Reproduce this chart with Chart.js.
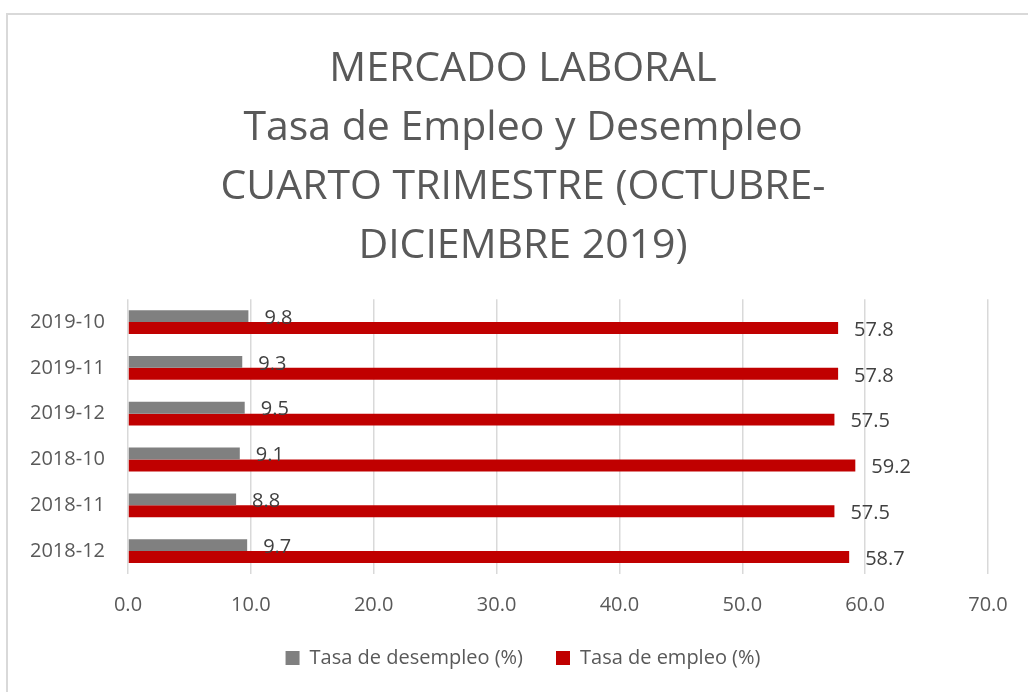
<!DOCTYPE html>
<html lang="es">
<head>
<meta charset="utf-8">
<title>Mercado laboral</title>
<script src="https://cdn.jsdelivr.net/npm/chart.js@4.4.1/dist/chart.umd.min.js"></script>
<style>
  html, body { margin: 0; padding: 0; background: #fff; overflow: hidden; }
  .frame {
    position: absolute; left: 6px; top: 13px; width: 1100px; height: 800px;
    border: 2px solid #d9d9d9; box-sizing: border-box;
  }
  #chart { position: absolute; left: 0; top: 0; }
</style>
</head>
<body>
<div class="frame"></div>
<canvas id="chart" width="1028" height="692"></canvas>
<script>
const TITLE_LINES = [
  "MERCADO LABORAL",
  "Tasa de Empleo y Desempleo",
  "CUARTO TRIMESTRE (OCTUBRE-",
  "DICIEMBRE 2019)"
];
const PERIODS = ["2019-10", "2019-11", "2019-12", "2018-10", "2018-11", "2018-12"];
const DESEMPLEO = [9.8, 9.3, 9.5, 9.1, 8.8, 9.7];
const EMPLEO = [57.8, 57.8, 57.5, 59.2, 57.5, 58.7];
const X_MIN = 0;
const X_MAX = 70;
const X_STEP = 10;

const FONT = "'Open Sans', 'DejaVu Sans', sans-serif";
const TEXT_GREY = "#595959";
const LABEL_DARK = "#404040";

// value labels to the right of each bar
const barLabels = {
  id: "barLabels",
  afterDatasetsDraw(chart) {
    const { ctx } = chart;
    ctx.save();
    ctx.font = `20px ${FONT}`;
    ctx.fillStyle = LABEL_DARK;
    ctx.textAlign = "left";
    ctx.textBaseline = "middle";
    chart.data.datasets.forEach((ds, i) => {
      const meta = chart.getDatasetMeta(i);
      meta.data.forEach((bar, j) => {
        ctx.fillText(ds.data[j].toFixed(1), bar.x + 16, bar.y + 2);
      });
    });
    ctx.restore();
  }
};

// the left padding only centres title/legend; let the category labels use it
const widenLabelArea = {
  id: "widenLabelArea",
  afterLayout(chart) {
    chart.scales.y.left = 0;
  }
};

new Chart(document.getElementById("chart"), {
  type: "bar",
  data: {
    labels: PERIODS,
    datasets: [
      {
        label: "Tasa de desempleo (%)",
        data: DESEMPLEO,
        backgroundColor: "#808080",
        categoryPercentage: 0.52,
        barPercentage: 1
      },
      {
        label: "Tasa de empleo (%)",
        data: EMPLEO,
        backgroundColor: "#c00000",
        categoryPercentage: 0.52,
        barPercentage: 1
      }
    ]
  },
  options: {
    indexAxis: "y",
    responsive: false,
    animation: false,
    layout: { padding: { left: 58, right: 40, top: 0, bottom: 14 } },
    plugins: {
      title: {
        display: true,
        text: TITLE_LINES,
        color: TEXT_GREY,
        font: { family: FONT, size: 41, weight: "normal", lineHeight: 1.44 },
        padding: { top: 40, bottom: 23 }
      },
      legend: {
        position: "bottom",
        labels: {
          color: TEXT_GREY,
          font: { family: FONT, size: 20 },
          boxWidth: 14,
          boxHeight: 14,
          padding: 33
        }
      },
      tooltip: { enabled: false }
    },
    scales: {
      x: {
        min: X_MIN,
        max: X_MAX,
        ticks: {
          stepSize: X_STEP,
          color: TEXT_GREY,
          font: { family: FONT, size: 20 },
          padding: 19,
          callback: (v) => Number(v).toFixed(1)
        },
        grid: { color: "#d9d9d9", lineWidth: 1.5, drawTicks: false },
        border: { display: false },
        afterFit: (scale) => { scale.height = 41; }
      },
      y: {
        ticks: {
          color: TEXT_GREY,
          font: { family: FONT, size: 20 },
          padding: 15
        },
        grid: { display: false },
        border: { display: false },
        afterFit: (scale) => { scale.width = 70; }
      }
    }
  },
  plugins: [barLabels, widenLabelArea]
});
</script>
</body>
</html>
